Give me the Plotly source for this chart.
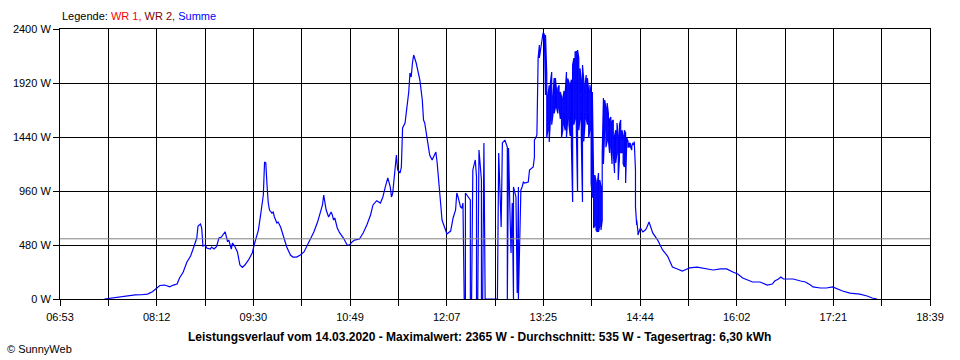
import plotly.graph_objects as go
import numpy as np

# ---------------- data ----------------
zeit_vormittag = [
    "07:29", "07:35", "07:42", "07:47", "07:54", "07:59", "08:04", "08:08", "08:12", "08:14",
    "08:18", "08:22", "08:25", "08:28", "08:30", "08:33", "08:36", "08:39", "08:41", "08:44",
    "08:45", "08:47", "08:48", "08:49", "08:51", "08:52", "08:55", "08:56", "08:58", "09:00",
    "09:02", "09:04", "09:07", "09:08", "09:09", "09:10", "09:12", "09:13", "09:15", "09:17",
    "09:18", "09:19", "09:21", "09:23", "09:26", "09:29", "09:31", "09:34", "09:36", "09:38",
    "09:39", "09:40", "09:41", "09:42", "09:43", "09:45", "09:46", "09:47", "09:49", "09:50",
    "09:52", "09:54", "09:57", "10:00", "10:02", "10:05", "10:08", "10:11", "10:13", "10:16",
    "10:19", "10:22", "10:24", "10:26", "10:27", "10:28", "10:29", "10:31", "10:33", "10:34",
    "10:35", "10:36", "10:38", "10:40", "10:43", "10:46", "10:48", "10:50", "10:52", "10:56",
    "10:59", "11:02", "11:05", "11:07", "11:10", "11:13", "11:15", "11:17", "11:19", "11:21",
    "11:22", "11:23", "11:25", "11:26", "11:27", "11:29", "11:30", "11:31", "11:33", "11:35",
    "11:36", "11:37", "11:38", "11:39", "11:40", "11:42", "11:43", "11:44", "11:45", "11:47",
    "11:48", "11:49", "11:51", "11:52", "11:53", "11:55", "11:56", "11:58", "11:59", "12:01",
    "12:02", "12:03", "12:05", "12:06", "12:07",
]
watt_vormittag = [
    0, 9, 15, 27, 36, 38, 44, 65, 98, 120,
    124, 109, 124, 133, 187, 240, 329, 382, 444, 542,
    649, 667, 631, 471, 480, 453, 444, 462, 444, 465,
    542, 551, 598, 554, 509, 524, 444, 498, 465, 418,
    347, 302, 280, 302, 347, 409, 498, 613, 764, 924,
    1218, 1210, 1013, 853, 791, 764, 773, 729, 676, 684,
    640, 569, 462, 391, 373, 373, 391, 418, 462, 524,
    596, 684, 764, 836, 924, 862, 791, 729, 773, 747,
    702, 720, 631, 587, 542, 480, 480, 507, 524, 533,
    587, 658, 747, 836, 874, 853, 907, 996, 1076, 996,
    907, 942, 1209, 1280, 1147, 1120, 1173, 1520, 1564, 1742,
    1840, 2009, 1973, 2098, 2169, 2100, 2036, 2009, 1947, 1769,
    1591, 1564, 1413, 1324, 1280, 1236, 1262, 1307, 1218, 996,
    836, 702, 640, 596, 578,
]

zeit_mittag = [
    "12:10", "12:12", "12:14", "12:15", "12:16", "12:18", "12:19", "12:20", "12:21", "12:22",
    "12:22", "12:24", "12:26", "12:26", "12:27", "12:28", "12:30", "12:31", "12:31", "12:32",
    "12:33", "12:35", "12:35", "12:36", "12:37", "12:38", "12:48", "12:48", "12:49", "12:51",
    "12:52", "12:54", "12:56", "12:56", "12:57", "12:58", "12:59", "13:00", "13:01", "13:01",
    "13:03", "13:04", "13:05", "13:05", "13:07", "13:08", "13:09", "13:10", "13:13", "13:14",
    "13:17", "13:18", "13:18", "13:19", "13:20", "13:21", "13:22", "13:22", "13:24", "13:25",
    "13:26",
]
watt_mittag = [
    604, 720, 791, 942, 907, 818, 809, 853, 0, 0,
    942, 907, 880, 0, 0, 1147, 1236, 1084, 0, 0,
    1324, 1058, 0, 0, 1387, 0, 0, 53, 1298, 640,
    1387, 1413, 1351, 0, 1342, 836, 409, 853, 0, 996,
    907, 53, 996, 0, 969, 996, 1040, 1031, 1040, 1147,
    1173, 1262, 1413, 1431, 1458, 2142, 2258, 2142, 2320, 2365,
    2356,
]

# dense, fluctuating phase: per minute the highest and lowest value seen
zeit_schwankend = [
    "13:27", "13:28", "13:29", "13:30", "13:31", "13:32", "13:33", "13:34", "13:35", "13:36",
    "13:37", "13:38", "13:39", "13:40", "13:41", "13:42", "13:43", "13:44", "13:45", "13:46",
    "13:47", "13:48", "13:49", "13:50", "13:51", "13:52", "13:53", "13:54", "13:55", "13:56",
    "13:57", "13:58", "13:59", "14:00", "14:01", "14:02", "14:03", "14:04", "14:05", "14:06",
    "14:07", "14:08", "14:09", "14:10", "14:11", "14:12", "14:13", "14:14", "14:15", "14:16",
    "14:17", "14:18", "14:19", "14:20", "14:21", "14:22", "14:23", "14:24", "14:25", "14:26",
    "14:27", "14:28", "14:29", "14:30", "14:31", "14:32", "14:33", "14:34", "14:35", "14:36",
    "14:37", "14:38", "14:39", "14:40", "14:41", "14:42",
]
watt_hoch = [
    2347, 2000, 1813, 1900, 1929, 2018, 1800, 1964, 1964, 1850,
    1876, 1900, 1840, 1800, 1780, 1850, 1840, 2018, 1960, 1929,
    1900, 1950, 2080, 2142, 2196, 2200, 2213, 2142, 2050, 1950,
    2080, 1950, 1900, 1991, 1964, 1850, 1902, 1840, 1840, 1100,
    1102, 1050, 1031, 1120, 1058, 1000, 1300, 1787, 1769, 1700,
    1742, 1650, 1600, 1618, 1580, 1591, 1450, 1500, 1564, 1450,
    1550, 1591, 1500, 1450, 1500, 1476, 1430, 1400, 1387, 1380,
    1360, 1390, 1400, 1147, 700, 600,
]
watt_tief = [
    1813, 1431, 1500, 1396, 1600, 1550, 1636, 1650, 1700, 1698,
    1650, 1700, 1600, 1431, 1500, 1550, 1500, 1431, 1600, 1550,
    1450, 1369, 862, 1550, 1600, 1500, 951, 1500, 1600, 1431,
    862, 1400, 1547, 1600, 1550, 1431, 1500, 1031, 900, 631,
    650, 613, 596, 596, 650, 613, 700, 1200, 1502, 1350,
    1400, 1413, 1298, 1350, 1200, 1300, 1120, 1209, 1300, 1058,
    1250, 1300, 1300, 1200, 1173, 1031, 1300, 1350, 1351, 1351,
    1324, 1369, 1387, 818, 658, 569,
]

zeit_nachmittag = [
    "14:44", "14:46", "14:48", "14:49", "14:51", "14:53", "14:54", "14:58", "15:00", "15:02",
    "15:06", "15:08", "15:10", "15:14", "15:18", "15:20", "15:24", "15:30", "15:35", "15:40",
    "15:43", "15:49", "15:54", "15:59", "16:03", "16:07", "16:11", "16:15", "16:21", "16:27",
    "16:31", "16:33", "16:36", "16:38", "16:40", "16:43", "16:48", "16:54", "16:58", "17:02",
    "17:04", "17:10", "17:15", "17:20", "17:24", "17:28", "17:34", "17:42", "17:48", "17:52",
    "17:56",
]
watt_nachmittag = [
    631, 596, 613, 631, 684, 613, 587, 524, 480, 436,
    382, 329, 284, 267, 249, 258, 276, 284, 276, 267,
    258, 267, 267, 240, 222, 187, 169, 151, 151, 124,
    133, 160, 178, 196, 178, 178, 178, 160, 151, 124,
    107, 98, 98, 107, 89, 71, 53, 44, 27, 9,
    0,
]

x_labels = ["06:53", "08:12", "09:30", "10:49", "12:07", "13:25", "14:44", "16:02", "17:21", "18:39"]
y_values = [0, 480, 960, 1440, 1920, 2400]
y_labels = [f"{v} W" for v in y_values]

datum = "14.03.2020"
maximalwert = 2365
durchschnitt = 535
tagesertrag = "6,30"

# ---------------- figure ----------------
def to_min(s):
    h, m = s.split(":")
    return int(h) * 60 + int(m)

zeit_dicht, watt_dicht = [], []
for i, (t, hi, lo) in enumerate(zip(zeit_schwankend, watt_hoch, watt_tief)):
    pair = (lo, hi) if i % 2 == 0 else (hi, lo)
    zeit_dicht += [t, t]
    watt_dicht += list(pair)

zeit = zeit_vormittag + zeit_mittag + zeit_dicht + zeit_nachmittag
watt = watt_vormittag + watt_mittag + watt_dicht + watt_nachmittag
xs = [to_min(t) for t in zeit]

x0, x1 = to_min(x_labels[0]), to_min(x_labels[-1])
n_int = 2 * (len(x_labels) - 1)
x_tickvals = list(np.linspace(x0, x1, n_int + 1))
x_ticktext = []
for i in range(n_int + 1):
    x_ticktext.append(x_labels[i // 2] if i % 2 == 0 else "")

FONT = "Liberation Sans, Arial, sans-serif"

fig = go.Figure()
fig.add_trace(go.Scatter(
    x=xs, y=watt, mode="lines",
    line=dict(color="#0000FF", width=1.2),
    hoverinfo="skip", showlegend=False,
))

fig.add_shape(type="line", xref="x domain", yref="y", x0=0, x1=1,
              y0=durchschnitt, y1=durchschnitt,
              line=dict(color="#808080", width=1), layer="above")

axis_common = dict(
    showgrid=True, gridcolor="#000000", gridwidth=1,
    showline=True, linecolor="#000000", linewidth=1, mirror=True,
    ticks="outside", ticklen=6, tickcolor="#000000", tickwidth=1,
    zeroline=False, tickfont=dict(family=FONT, size=11, color="#000000"),
    fixedrange=True,
)

fig.update_xaxes(range=[x0, x1], tickmode="array", tickvals=x_tickvals,
                 ticktext=x_ticktext, ticklabelstandoff=2, **axis_common)
fig.update_yaxes(range=[0, 2400], tickmode="array", tickvals=y_values,
                 ticktext=y_labels, **axis_common)

fig.add_annotation(
    xref="paper", yref="paper", x=0, y=1, xanchor="left", yanchor="middle",
    xshift=0, yshift=13, showarrow=False,
    text=("Legende: <span style='color:#FF0000'>WR 1,</span> "
          "<span style='color:#800000'>WR 2,</span> "
          "<span style='color:#0000FF'>Summe</span>"),
    font=dict(family=FONT, size=11, color="#000000"),
)
fig.add_annotation(
    xref="paper", yref="paper", x=(479 - 60) / 870, y=0, xanchor="center", yanchor="middle",
    yshift=-38, showarrow=False,
    text=(f"<b>Leistungsverlauf vom {datum} - Maximalwert: {maximalwert} W - "
          f"Durchschnitt: {durchschnitt} W - Tagesertrag: {tagesertrag} kWh</b>"),
    font=dict(family=FONT, size=12, color="#000000"),
)
fig.add_annotation(
    xref="paper", yref="paper", x=(5 - 60) / 870, y=0, xanchor="left", yanchor="middle",
    yshift=-50, showarrow=False,
    text="© SunnyWeb",
    font=dict(family=FONT, size=11, color="#000000"),
)

fig.update_layout(
    width=960, height=360,
    margin=dict(l=60, r=30, t=29, b=61, pad=0),
    paper_bgcolor="#FFFFFF", plot_bgcolor="#FFFFFF",
    font=dict(family=FONT, size=11, color="#000000"),
    showlegend=False,
)

fig.write_html("out.html", config={"displayModeBar": False},
               post_script="document.body.style.margin='0px';document.body.style.overflow='hidden';")
